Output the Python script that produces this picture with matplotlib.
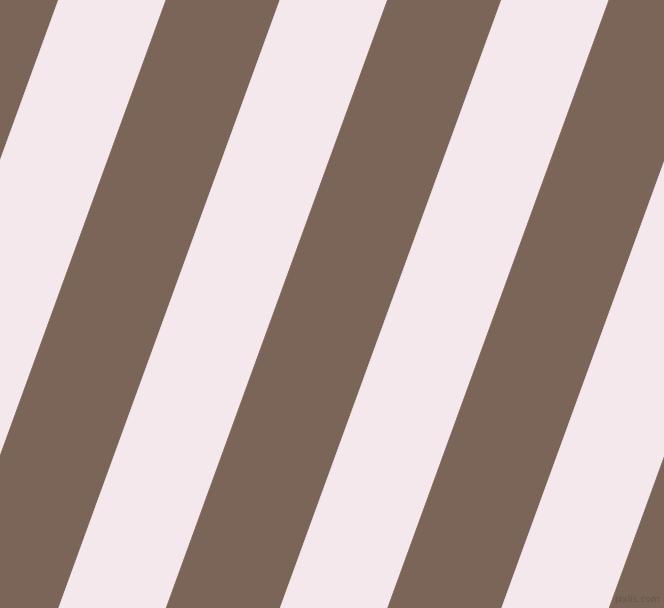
import numpy as np
import matplotlib
matplotlib.use("Agg")
import matplotlib.pyplot as plt
from matplotlib.patches import Polygon

# stripe pattern (pixel units, top edge)
colors = ['#7b6559', '#f4e8ec']
widths = [114, 107.5]
first_edge = -55.5      # left edge of first brown stripe at y=0
angle = 70              # degrees from horizontal
W, H = 664, 608

slope = 1 / np.tan(np.radians(angle))
period = sum(widths)

fig = plt.figure(figsize=(W / 100, H / 100), dpi=100)
ax = fig.add_axes([0, 0, 1, 1])
ax.set_xlim(0, W)
ax.set_ylim(H, 0)
ax.axis('off')
ax.add_patch(plt.Rectangle((0, 0), W, H, color=colors[1], zorder=0))

x = first_edge - period
while x < W + H * slope + period:
    for c, w in zip(colors, widths):
        pts = [(x, 0), (x + w, 0), (x + w - H * slope, H), (x - H * slope, H)]
        ax.add_patch(Polygon(pts, closed=True, facecolor=c, edgecolor=c, lw=0.5, zorder=1))
        x += w

ax.text(637, 600, 'pixlis.com', fontsize=6.5, color='#5a4a42', alpha=0.6,
        ha='center', va='center', zorder=2)

fig.savefig('out.png', dpi=100)
